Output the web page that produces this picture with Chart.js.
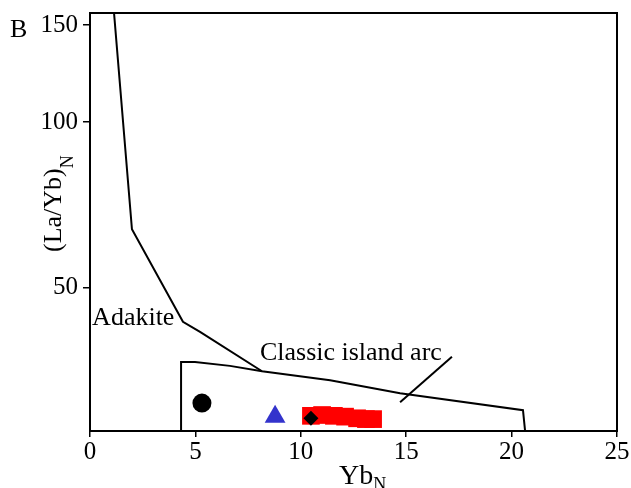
<!DOCTYPE html>
<html>
<head>
<meta charset="utf-8">
<script src="https://cdn.jsdelivr.net/npm/chart.js@4"></script>
<style>
  body { margin: 0; background: #fff; }
</style>
</head>
<body>
<canvas id="diagram" width="631" height="488"></canvas>
<script>
// tick values
const xTicks = [0, 5, 10, 15, 20, 25];
const yTicks = [50, 100, 150];

// Adakite boundary line (YbN, (La/Yb)N)
const adakiteYb   = [1.14, 1.99, 4.41, 5.22, 8.16];
const adakiteLaYb = [157.7, 63.9, 43.4, 41.6, 35.3];

// Classic island arc field
const arcYb   = [4.32, 4.32, 4.98, 6.64, 8.16, 11.39, 14.71, 20.54, 20.64];
const arcLaYb = [27.5, 36.7, 36.7, 36.1, 35.3, 34.0, 32.2, 30.0, 27.5];

// label leader line
const leaderYb   = [17.17, 14.71];
const leaderLaYb = [37.5, 31.0];

// samples
const circleYb = [5.31],  circleLaYb = [30.9];
const triYb    = [8.78],  triLaYb    = [29.2];
const diamondYb = [10.48], diamondLaYb = [29.0];
const redYb   = [10.48, 11.01, 11.57, 12.10, 12.67, 13.09, 13.43];
const redLaYb = [29.3, 29.4, 29.3, 29.2, 29.0, 28.9, 28.9];

const FONT = '"Liberation Serif", "Times New Roman", serif';

function pts(xs, ys) {
    return xs.map((x, i) => ({ x: x, y: ys[i] }));
}

function lineSet(xs, ys) {
    return {
        data: pts(xs, ys),
        showLine: true,
        borderColor: '#000',
        borderWidth: 2,
        pointRadius: 0,
        tension: 0,
        fill: false
    };
}

// frame, axis titles and field labels
const decorations = {
    id: 'decorations',
    afterDraw(chart) {
        const ctx = chart.ctx;
        const a = chart.chartArea;
        const xs = chart.scales.x, ys = chart.scales.y;
        ctx.save();
        ctx.strokeStyle = '#000';
        ctx.lineWidth = 2;
        ctx.strokeRect(a.left, a.top, a.right - a.left, a.bottom - a.top);

        ctx.fillStyle = '#000';
        ctx.textBaseline = 'alphabetic';
        ctx.textAlign = 'left';

        // panel letter
        ctx.font = '26px ' + FONT;
        ctx.fillText('B', 10, 37);

        // field labels
        ctx.font = '26px ' + FONT;
        ctx.fillText('Adakite', xs.getPixelForValue(0.1), ys.getPixelForValue(42.8));
        ctx.fillText('Classic island arc', xs.getPixelForValue(8.06), ys.getPixelForValue(37.0));

        // x title
        ctx.font = '28px ' + FONT;
        ctx.fillText('Yb', 339, 484);
        let w = ctx.measureText('Yb').width;
        ctx.font = '18px ' + FONT;
        ctx.fillText('N', 339 + w, 490);

        // y title
        ctx.translate(54, 252);
        ctx.rotate(-Math.PI / 2);
        ctx.textBaseline = 'middle';
        ctx.font = '26px ' + FONT;
        ctx.fillText('(La/Yb)', 0, 0);
        w = ctx.measureText('(La/Yb)').width;
        ctx.font = '18px ' + FONT;
        ctx.fillText('N', w, 14);
        ctx.restore();
    }
};

new Chart(document.getElementById('diagram'), {
    type: 'scatter',
    data: {
        datasets: [
            lineSet(adakiteYb, adakiteLaYb),
            lineSet(arcYb, arcLaYb),
            lineSet(leaderYb, leaderLaYb),
            {
                data: pts(diamondYb, diamondLaYb),
                pointStyle: 'rectRot',
                pointRadius: 7.5,
                backgroundColor: '#000',
                borderColor: '#000',
                borderWidth: 0
            },
            {
                data: pts(circleYb, circleLaYb),
                pointStyle: 'circle',
                pointRadius: 9.5,
                backgroundColor: '#000',
                borderColor: '#000',
                borderWidth: 0
            },
            {
                data: pts(triYb, triLaYb),
                pointStyle: 'triangle',
                pointRadius: 12,
                backgroundColor: '#3333cc',
                borderColor: '#3333cc',
                borderWidth: 0
            },
            {
                data: pts(redYb, redLaYb),
                pointStyle: 'rect',
                pointRadius: 12.5,
                backgroundColor: '#ff0000',
                borderColor: '#ff0000',
                borderWidth: 0
            }
        ]
    },
    options: {
        responsive: false,
        animation: false,
        layout: { padding: { left: 0, right: 14, top: 13, bottom: 0 } },
        plugins: {
            legend: { display: false },
            tooltip: { enabled: false }
        },
        scales: {
            x: {
                type: 'linear',
                min: 0,
                max: 25,
                afterFit: s => { s.height = 57; s.paddingLeft = 0; s.paddingRight = 0; },
                afterBuildTicks: s => { s.ticks = xTicks.map(v => ({ value: v })); },
                border: { display: true, color: '#000', width: 2 },
                grid: { drawOnChartArea: false, drawTicks: true, tickLength: 6, color: '#000', lineWidth: 1.5 },
                ticks: { color: '#000', padding: 0, maxRotation: 0, font: { family: FONT, size: 25 } }
            },
            y: {
                type: 'logarithmic',
                min: 27.5,
                max: 157.7,
                afterFit: s => { s.width = 90; s.paddingTop = 0; s.paddingBottom = 0; },
                afterBuildTicks: s => { s.ticks = yTicks.map(v => ({ value: v })); },
                border: { display: true, color: '#000', width: 2 },
                grid: { drawOnChartArea: false, drawTicks: true, tickLength: 7, color: '#000', lineWidth: 1.5 },
                ticks: {
                    color: '#000',
                    padding: 5,
                    font: { family: FONT, size: 25 },
                    callback: v => String(v)
                }
            }
        }
    },
    plugins: [decorations]
});
</script>
</body>
</html>
